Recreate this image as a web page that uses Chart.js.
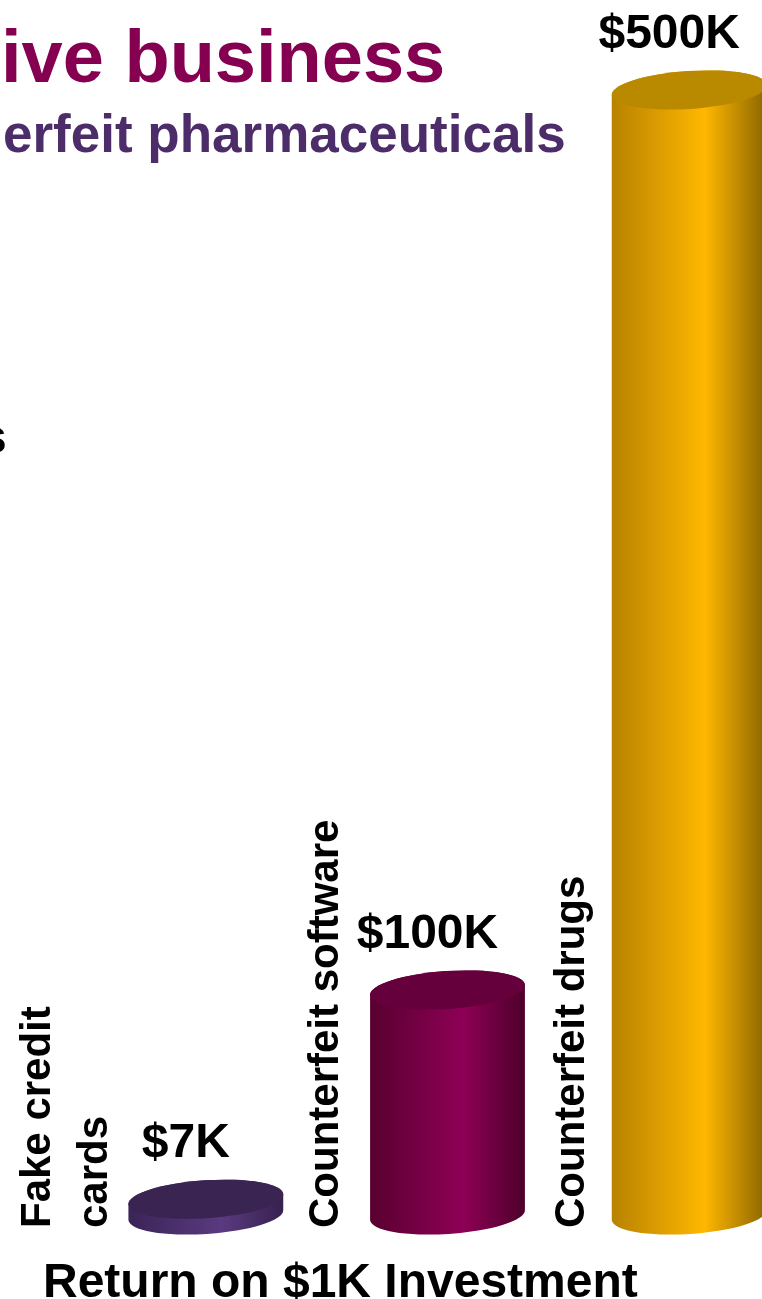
<!DOCTYPE html>
<html>
<head>
<meta charset="utf-8">
<script src="https://cdn.jsdelivr.net/npm/chart.js@4"></script>
<style>
  html, body { margin: 0; padding: 0; background: #fff; overflow: hidden; }
  #wrap { position: absolute; left: 0; top: 0; width: 830px; height: 1299px; }
</style>
</head>
<body>
<div id="wrap"><canvas id="chart"></canvas></div>
<script>
// return on a $1K investment, in $K
const categories = [["Fake credit", "cards"], ["Counterfeit software"], ["Counterfeit drugs"]];
const returns = [7, 100, 500];
const valueLabels = ["$7K", "$100K", "$500K"];
const axisTitle = "Return on $1K Investment";
const titleText = "ive business";
const subtitleText = "erfeit pharmaceuticals";

// cylinder shading: left edge, highlight, right edge, top face
const shades = [
    ["#3b2457", "#5a3a80", "#37214f", "#3a2452"],
    ["#58002f", "#8e0056", "#4d002b", "#66003c"],
    ["#b88200", "#ffb700", "#8a6500", "#b98900"]
];
// where each rotated category label sits, relative to bar center
const labelShift = [-99, -110, -105];

const FONT = "'Liberation Sans', Arial, sans-serif";
const RY = 19, ROT = -0.065;

const cylinders = {
    id: "cylinders",
    afterDatasetsDraw(chart) {
        const ctx = chart.ctx;
        const meta = chart.getDatasetMeta(0);
        meta.data.forEach((bar, i) => {
            const { x, y, base, width } = bar.getProps(["x", "y", "base", "width"], true);
            const a = width / 2;
            const dx = a * Math.cos(ROT), dy = a * Math.sin(ROT);
            const c = shades[i];
            const g = ctx.createLinearGradient(x - a, 0, x + a, 0);
            g.addColorStop(0, c[0]);
            g.addColorStop(0.6, c[1]);
            g.addColorStop(1, c[2]);

            ctx.save();
            ctx.beginPath();
            ctx.moveTo(x - dx, y - dy);
            ctx.lineTo(x - dx, base - dy);
            ctx.ellipse(x, base, a, RY, ROT, Math.PI, 0, true);
            ctx.lineTo(x + dx, y + dy);
            ctx.ellipse(x, y, a, RY, ROT, 0, Math.PI, true);
            ctx.closePath();
            ctx.fillStyle = g;
            ctx.fill();

            ctx.beginPath();
            ctx.ellipse(x, y, a, RY, ROT, 0, Math.PI * 2);
            ctx.fillStyle = c[3];
            ctx.fill();

            // value label
            ctx.fillStyle = "#000";
            ctx.font = "bold 48px " + FONT;
            ctx.textAlign = "center";
            ctx.textBaseline = "alphabetic";
            ctx.fillText(valueLabels[i], x - 20, y - 42);

            // rotated category label
            const lines = categories[i];
            ctx.font = "bold 42px " + FONT;
            ctx.textAlign = "left";
            const lastX = x + labelShift[i];
            lines.forEach((ln, j) => {
                const bx = lastX - (lines.length - 1 - j) * 57;
                ctx.save();
                ctx.translate(bx, 1228);
                ctx.rotate(-Math.PI / 2);
                ctx.fillText(ln, 0, 0);
                ctx.restore();
            });
            ctx.restore();
        });
    },
    afterDraw(chart) {
        const ctx = chart.ctx;
        ctx.save();
        ctx.textAlign = "left";
        ctx.textBaseline = "alphabetic";
        ctx.fillStyle = "#850050";
        ctx.font = "bold 74px " + FONT;
        ctx.fillText(titleText, 1, 82);
        ctx.fillStyle = "#4c2c69";
        ctx.font = "bold 53px " + FONT;
        ctx.fillText(subtitleText, 3, 152);
        ctx.fillStyle = "#000";
        ctx.font = "bold 48px " + FONT;
        ctx.fillText("s", -20, 453);
        ctx.fillText(axisTitle, 43, 1297);
        ctx.restore();
    }
};

new Chart(document.getElementById("chart"), {
    type: "bar",
    data: {
        labels: categories,
        datasets: [{
            data: returns,
            backgroundColor: "rgba(0,0,0,0)",
            borderWidth: 0,
            barPercentage: 0.642,
            categoryPercentage: 1
        }]
    },
    options: {
        responsive: true,
        maintainAspectRatio: false,
        animation: false,
        layout: { padding: { left: 85, right: 20, top: 90, bottom: 84 } },
        plugins: { legend: { display: false }, tooltip: { enabled: false } },
        scales: {
            x: { display: false },
            y: { display: false, min: 0, max: 500 }
        }
    },
    plugins: [cylinders]
});
</script>
</body>
</html>
